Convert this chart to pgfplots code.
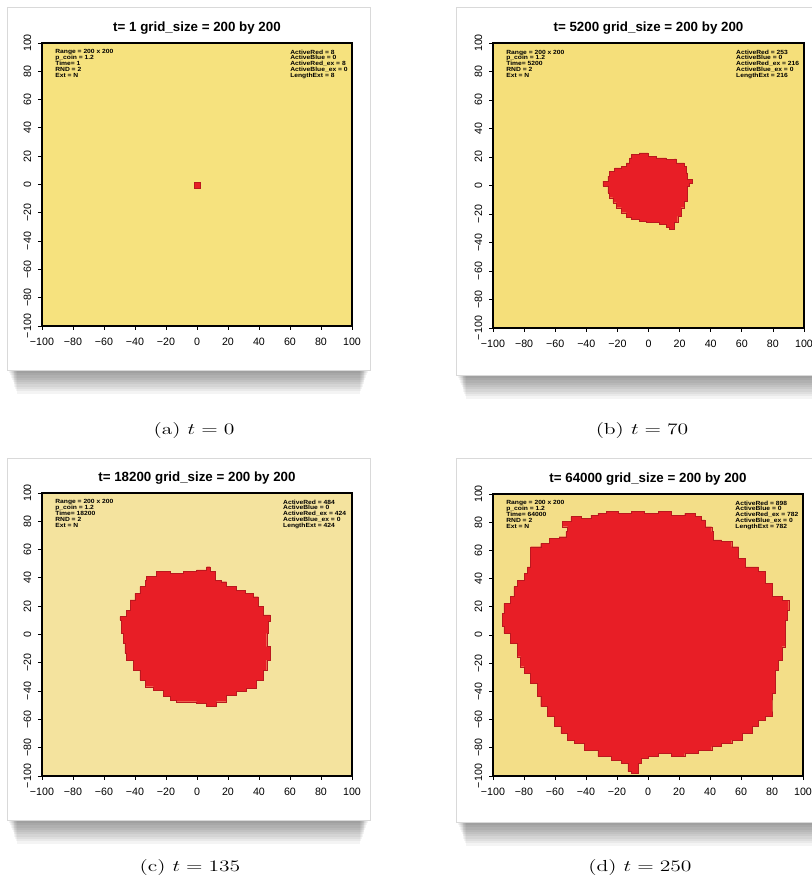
\documentclass[border=0pt]{standalone}
\usepackage{fontspec}
\usepackage{pgfplots}
\pgfplotsset{compat=1.18}
\newfontfamily\hv{Liberation Sans}
\definecolor{ylA}{HTML}{F6E27E}
\definecolor{ylB}{HTML}{F5DF7A}
\definecolor{ylC}{HTML}{F4E39E}
\definecolor{ylD}{HTML}{F3DE88}
\definecolor{blobred}{HTML}{E81E26}
\pgfplotsset{
  simpanel/.style={
    scale only axis, anchor=south west,
    xmin=-100,xmax=100,ymin=-100,ymax=100,
    xtick={-100,-80,...,100}, ytick={-100,-80,...,100},
    xticklabels={−100,−80,−60,−40,−20,0,20,40,60,80,100},
    yticklabels={−100,−80,−60,−40,−20,0,20,40,60,80,100},
    xtick pos=left, ytick pos=left, tick align=outside,
    major tick length=3pt,
    every tick/.style={black, line width=0.6pt},
    axis line style={black, line width=0.8pt},
    ticklabel style={font=\hv\fontsize{8}{9}\selectfont},
    xticklabel style={anchor=center, yshift=-9pt},
    yticklabel style={anchor=center, xshift=-8pt, rotate=90},
    title style={font=\hv\bfseries\fontsize{10}{12}\selectfont, at={(0.5,1)}, anchor=center, yshift=5pt},
  },
  blob/.style={const plot, fill=blobred, draw=blobred!80!black, line width=0.3pt},
}
\tikzset{
  anno/.style={anchor=north west, inner sep=0pt, align=left, xscale=1.12,
    font=\hv\bfseries\fontsize{4.5}{4.35}\selectfont},
}
\newcommand\card[4]{%
  \foreach \k in {0,...,9} {
    \fill[black, opacity=0.045] ({#1+2+\k*0.9},{#4-4}) rectangle ({#3-2-\k*0.9},{#4+3+\k*2.3});
  }
  \fill[white] (#1,#2) rectangle (#3,#4);
  \draw[black!15, line width=0.4pt] (#1,#2) rectangle (#3,#4);
}
\begin{document}
\begin{tikzpicture}
\useasboundingbox (0,0) rectangle (609pt,669.75pt);
\clip (0,0) rectangle (609pt,669.75pt);
\fill[white] (0,0) rectangle (609pt,669.75pt);
\begin{scope}[shift={(0pt,669.75pt)}, x=0.75pt, y=-0.75pt]
  \card{7}{7}{370}{370}
  \card{456}{7}{825}{375}
  \card{7}{458}{370}{820}
  \card{456}{458}{825}{822}
\end{scope}

% (a)
\begin{axis}[simpanel, at={(31.5pt,425.25pt)}, width=232.5pt, height=212.25pt,
  axis background/.style={fill=ylA}, title={t= 1 grid\_size = 200 by 200}]
\addplot[fill=blobred, draw=blobred!80!black, line width=0.3pt] coordinates {(-2,-2.3) (2,-2.3) (2,1.7) (-2,1.7)} -- cycle;
\node[anno] at (rel axis cs:0.042,0.977) {Range = 200 x 200\\p\_coin = 1.2\\Time= 1\\RND = 2\\Ext = N};
\node[anno] at (rel axis cs:0.800,0.977) {ActiveRed = 8\\ActiveBlue = 0\\ActiveRed\_ex = 8\\ActiveBlue\_ex = 0\\LengthExt = 8};
\end{axis}

% (b)
\begin{axis}[simpanel, at={(369.75pt,423.75pt)}, width=233.25pt, height=213.75pt,
  axis background/.style={fill=ylB}, title={t= 5200 grid\_size = 200 by 200}]
\addplot[blob] coordinates {(-11.1,21.7) (-5.8,22.9) (-0.4,20.5) (4.9,19.3) (11.3,18.2) (16.7,18.6) (17.7,15.8) (23.1,13.5) (24.1,8.9) (25.2,4.2) (28.4,1.9) (26.3,-0.5) (25.2,-6.3) (25.2,-11) (23.1,-15.6) (20.9,-21.5) (18.8,-26.1) (16.7,-30.8) (13.5,-29.6) (11.3,-27.3) (7.1,-26.1) (2.8,-26.1) (-1.5,-25) (-5.8,-23.8) (-11.1,-22.6) (-14.3,-19.1) (-17.5,-15.6) (-20.7,-12.1) (-22.9,-8.6) (-25,-5.1) (-26.1,-0.5) (-29.3,3) (-26.1,6.5) (-25,10) (-21.8,12.4) (-17.5,13.5) (-14.3,15.8) (-12.2,19.3) (-11.1,21.7)} -- cycle;
\node[anno] at (rel axis cs:0.042,0.977) {Range = 200 x 200\\p\_coin = 1.2\\Time= 5200\\RND = 2\\Ext = N};
\node[anno] at (rel axis cs:0.781,0.977) {ActiveRed = 253\\ActiveBlue = 0\\ActiveRed\_ex = 216\\ActiveBlue\_ex = 0\\LengthExt = 216};
\end{axis}

% (c)
\begin{axis}[simpanel, at={(31.5pt,87.75pt)}, width=232.5pt, height=212.25pt,
  axis background/.style={fill=ylC}, title={t= 18200 grid\_size = 200 by 200}]
\addplot[blob] coordinates {(-32.5,40.9) (-26,44.4) (-17.4,43.2) (-8.8,44.4) (-0.2,45.6) (6.2,47.9) (8.4,44.4) (11.6,38.5) (15.9,37.3) (19.1,33.8) (25.6,31.4) (31,29.1) (36.3,26.7) (39.6,19.7) (42.8,13.8) (47.1,9.1) (46,0.8) (45,-8.6) (47.1,-18) (45,-25.1) (42.8,-32.2) (38.5,-38) (32,-40.4) (25.6,-42.8) (19.1,-47.5) (12.7,-51) (6.2,-48.6) (-0.2,-47.5) (-6.7,-47.5) (-13.1,-46.3) (-17.4,-43.9) (-21.7,-39.2) (-28.2,-36.9) (-33.5,-32.2) (-36.8,-25.1) (-41.1,-18) (-45.4,-13.3) (-46.5,-6.2) (-47.5,0.8) (-48.6,10.2) (-49.7,12.6) (-45.4,17.3) (-43.2,24.4) (-40,29.1) (-36.8,33.8) (-33.5,38.5) (-32.5,40.9)} -- cycle;
\node[anno] at (rel axis cs:0.042,0.977) {Range = 200 x 200\\p\_coin = 1.2\\Time= 18200\\RND = 2\\Ext = N};
\node[anno] at (rel axis cs:0.777,0.977) {ActiveRed = 484\\ActiveBlue = 0\\ActiveRed\_ex = 424\\ActiveBlue\_ex = 0\\LengthExt = 424};
\end{axis}

% (d)
\begin{axis}[simpanel, at={(369.75pt,87.75pt)}, width=232.5pt, height=211.5pt,
  axis background/.style={fill=ylD}, title={t= 64000 grid\_size = 200 by 200}]
\addplot[blob] coordinates {(-55.1,80.4) (-49.7,83.9) (-43.2,82.7) (-36.8,85.1) (-32.4,86.3) (-27,87.5) (-19.5,86.3) (-10.8,87.5) (-2.2,86.3) (6.5,87.5) (15.1,85.1) (23.7,86.3) (30.2,83.9) (34.6,81.6) (36.7,76.8) (41.1,73.3) (42.2,67.4) (47.5,66.2) (54,62.6) (58.4,54.4) (62.6,48.4) (71.3,44.9) (75.6,36.7) (80,27.2) (86.4,24.8) (90.8,17.7) (89.7,10.6) (88.6,1.2) (88.6,-8.3) (86.4,-17.7) (84.3,-24.8) (82.1,-31.9) (82.1,-41.4) (80,-50.8) (80,-57.9) (75.6,-60.3) (71.3,-65) (67,-69.7) (60.5,-74.5) (54,-76.8) (47.5,-79.2) (41.1,-81.6) (32.4,-83.9) (23.7,-86.3) (15.1,-83.9) (6.5,-86.3) (0,-87.4) (-4.3,-91) (-6.5,-98.1) (-10.8,-96.9) (-13,-91) (-17.3,-88.7) (-23.8,-86.3) (-32.4,-81.6) (-41.1,-76.8) (-47.6,-74.5) (-51.9,-69.7) (-56.2,-65) (-60.6,-57.9) (-64.9,-50.8) (-69.2,-43.7) (-71.3,-34.3) (-75.7,-27.2) (-80,-22.5) (-82.2,-15.4) (-84.3,-5.9) (-88.7,1.2) (-93,5.9) (-94,15.4) (-93,22.5) (-88.7,27.2) (-86.5,34.3) (-84.3,39) (-80,43.7) (-77.8,48.4) (-75.7,55.6) (-75.7,62.6) (-69.2,65) (-63.8,68.6) (-57.3,69.7) (-53,73.3) (-51.9,76.8) (-55.1,80.4)} -- cycle;
\node[anno] at (rel axis cs:0.042,0.977) {Range = 200 x 200\\p\_coin = 1.2\\Time= 64000\\RND = 2\\Ext = N};
\node[anno] at (rel axis cs:0.781,0.977) {ActiveRed = 898\\ActiveBlue = 0\\ActiveRed\_ex = 782\\ActiveBlue\_ex = 0\\LengthExt = 782};
\end{axis}

\begin{scope}[shift={(0pt,669.75pt)}, x=0.75pt, y=-0.75pt]
  \node[font=\fontsize{12}{14}\selectfont, xscale=1.35] at (194,431) {(a) $t = 0$};
  \node[font=\fontsize{12}{14}\selectfont, xscale=1.35] at (642,431) {(b) $t = 70$};
  \node[font=\fontsize{12}{14}\selectfont, xscale=1.35] at (190,868) {(c) $t = 135$};
  \node[font=\fontsize{12}{14}\selectfont, xscale=1.35] at (640,868) {(d) $t = 250$};
\end{scope}
\end{tikzpicture}
\end{document}
